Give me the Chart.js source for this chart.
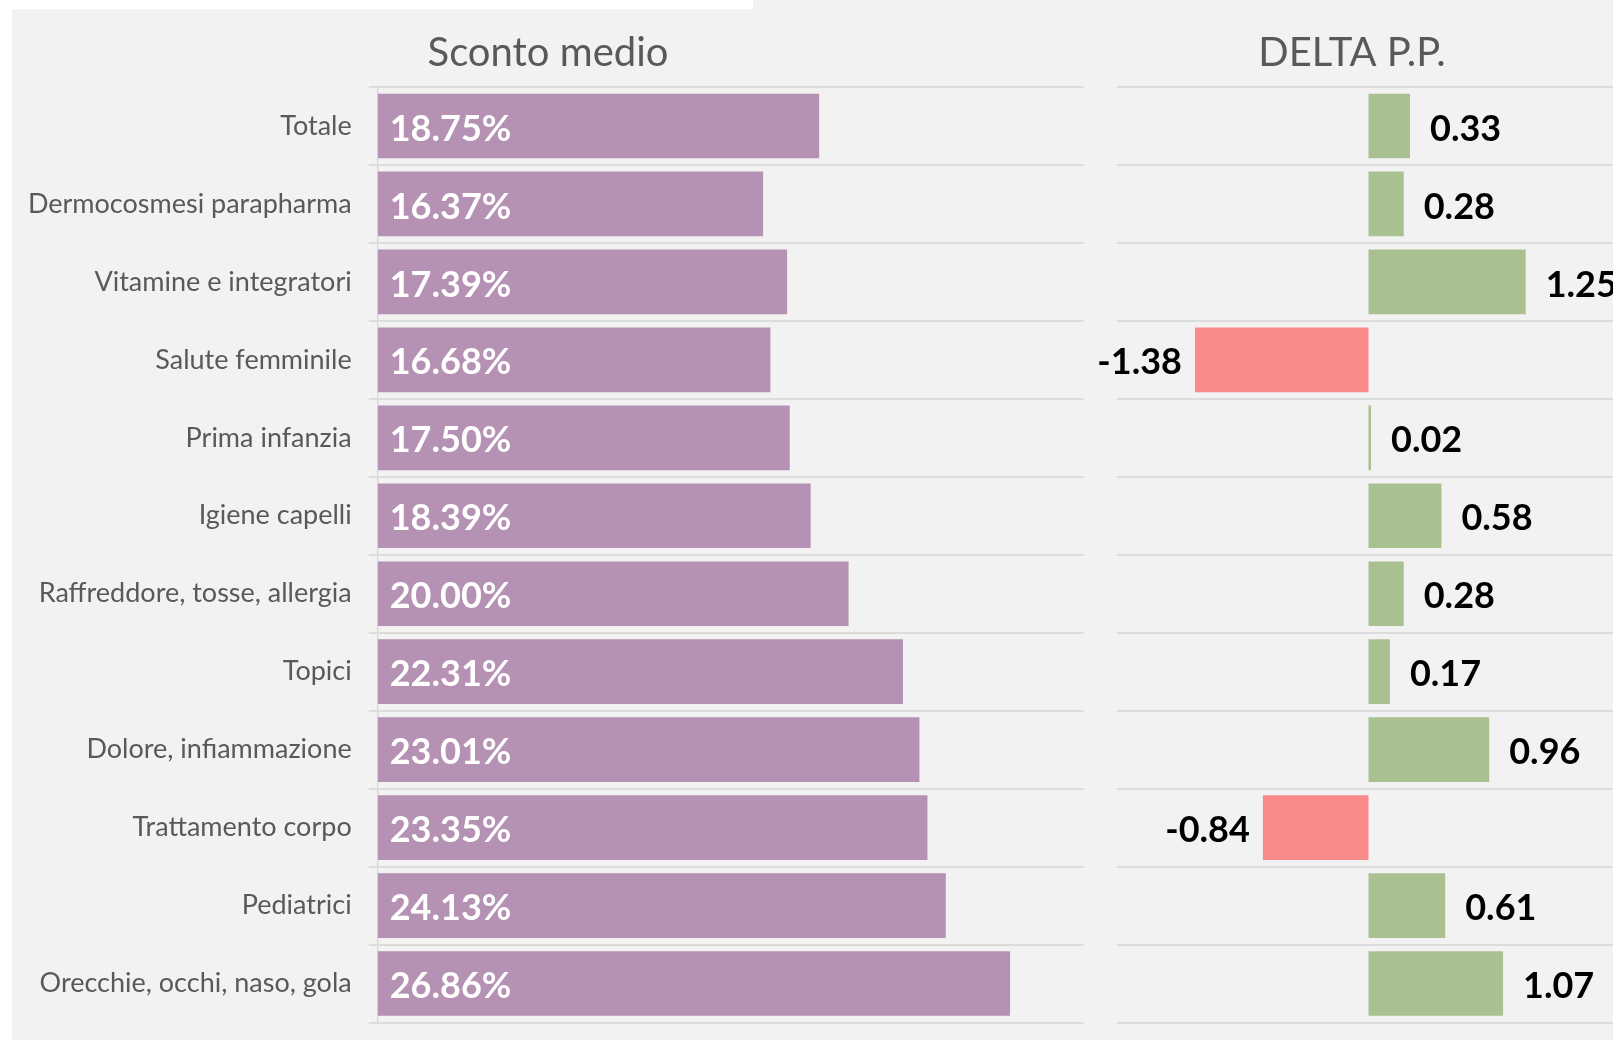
<!DOCTYPE html>
<html>
<head>
<meta charset="utf-8">
<script src="https://cdn.jsdelivr.net/npm/chart.js@4"></script>
<style>
  body { margin: 0; background: #fff; overflow: hidden; width: 1613px; height: 1040px; position: relative; }
  #panel { position: absolute; left: 12px; top: 0; right: 0; bottom: 0; background: #f2f2f2; }
  #strip { position: absolute; left: 0; top: 0; width: 753px; height: 9px; background: #fff; }
  canvas { position: absolute; top: 0; }
  #scontoChart { left: 12px; }
  #deltaChart { left: 1084px; }
</style>
</head>
<body>
<div id="panel"></div>
<div id="strip"></div>
<canvas id="scontoChart" width="1072" height="1040"></canvas>
<canvas id="deltaChart" width="536" height="1040"></canvas>
<script>
// Categories and values
const categories = [
    'Totale',
    'Dermocosmesi parapharma',
    'Vitamine e integratori',
    'Salute femminile',
    'Prima infanzia',
    'Igiene capelli',
    'Raffreddore, tosse, allergia',
    'Topici',
    'Dolore, infiammazione',
    'Trattamento corpo',
    'Pediatrici',
    'Orecchie, occhi, naso, gola'
];
const scontoMedio = [18.75, 16.37, 17.39, 16.68, 17.50, 18.39, 20.00, 22.31, 23.01, 23.35, 24.13, 26.86];
const deltaPP = [0.33, 0.28, 1.25, -1.38, 0.02, 0.58, 0.28, 0.17, 0.96, -0.84, 0.61, 1.07];

const FONT = 'Lato';
const gridColor = '#dcdcdc';

// Draws the value labels next to / inside each bar
const barLabels = {
    id: 'barLabels',
    afterDatasetsDraw(chart, args, opts) {
        const ctx = chart.ctx;
        const meta = chart.getDatasetMeta(0);
        const values = chart.data.datasets[0].data;
        ctx.save();
        ctx.font = 'bold 36px ' + FONT;
        ctx.textBaseline = 'middle';
        meta.data.forEach((bar, i) => {
            const v = values[i];
            const y = bar.y + 3;
            if (opts.mode === 'inside') {
                ctx.fillStyle = '#ffffff';
                ctx.textAlign = 'left';
                ctx.fillText(v.toFixed(2) + '%', bar.base + 12, y);
            } else {
                ctx.fillStyle = '#000000';
                if (v >= 0) {
                    ctx.textAlign = 'left';
                    ctx.fillText(v.toFixed(2), bar.x + 20, y);
                } else {
                    ctx.textAlign = 'right';
                    ctx.fillText(v.toFixed(2), bar.x - 13, y);
                }
            }
        });
        ctx.restore();
    }
};

function titleOpts(text) {
    return {
        display: true,
        text: text,
        color: '#595959',
        font: { family: FONT, size: 40, weight: 'normal' },
        padding: { top: 29, bottom: 10 }
    };
}

// keep the axis from pushing the plot area up for half-label room
function fixAxis(width) {
    return (scale) => {
        scale.width = width;
        scale.paddingTop = 0;
        scale.paddingBottom = 0;
    };
}

new Chart(document.getElementById('scontoChart'), {
    type: 'bar',
    data: {
        labels: categories,
        datasets: [{
            data: scontoMedio,
            backgroundColor: '#b591b3',
            barPercentage: 0.83,
            categoryPercentage: 1
        }]
    },
    options: {
        indexAxis: 'y',
        responsive: false,
        animation: false,
        layout: { padding: { top: 0, bottom: 17.5, left: 0, right: 0 } },
        plugins: {
            legend: { display: false },
            tooltip: { enabled: false },
            title: titleOpts('Sconto medio'),
            barLabels: { mode: 'inside' }
        },
        scales: {
            x: { display: false, min: 0, max: 30 },
            y: {
                afterFit: fixAxis(365.7),
                grid: { color: gridColor, lineWidth: 2, tickLength: 9, drawTicks: true },
                border: { display: true, color: '#d9d9d9', width: 1.5 },
                ticks: {
                    color: '#595959',
                    padding: 17,
                    font: { family: FONT, size: 27 }
                }
            }
        }
    },
    plugins: [barLabels]
});

new Chart(document.getElementById('deltaChart'), {
    type: 'bar',
    data: {
        labels: categories,
        datasets: [{
            data: deltaPP,
            backgroundColor: (c) => c.raw >= 0 ? '#a9c090' : '#fa8a8a',
            barPercentage: 0.83,
            categoryPercentage: 1
        }]
    },
    options: {
        indexAxis: 'y',
        responsive: false,
        animation: false,
        layout: { padding: { top: 0, bottom: 17.5, left: 0, right: 0 } },
        plugins: {
            legend: { display: false },
            tooltip: { enabled: false },
            title: titleOpts('DELTA P.P.'),
            barLabels: { mode: 'outside' }
        },
        scales: {
            x: { display: false, min: -2, max: 2 },
            y: {
                afterFit: fixAxis(33),
                grid: { color: gridColor, lineWidth: 2, drawTicks: false },
                border: { display: false },
                ticks: { display: false }
            }
        }
    },
    plugins: [barLabels]
});
</script>
</body>
</html>
